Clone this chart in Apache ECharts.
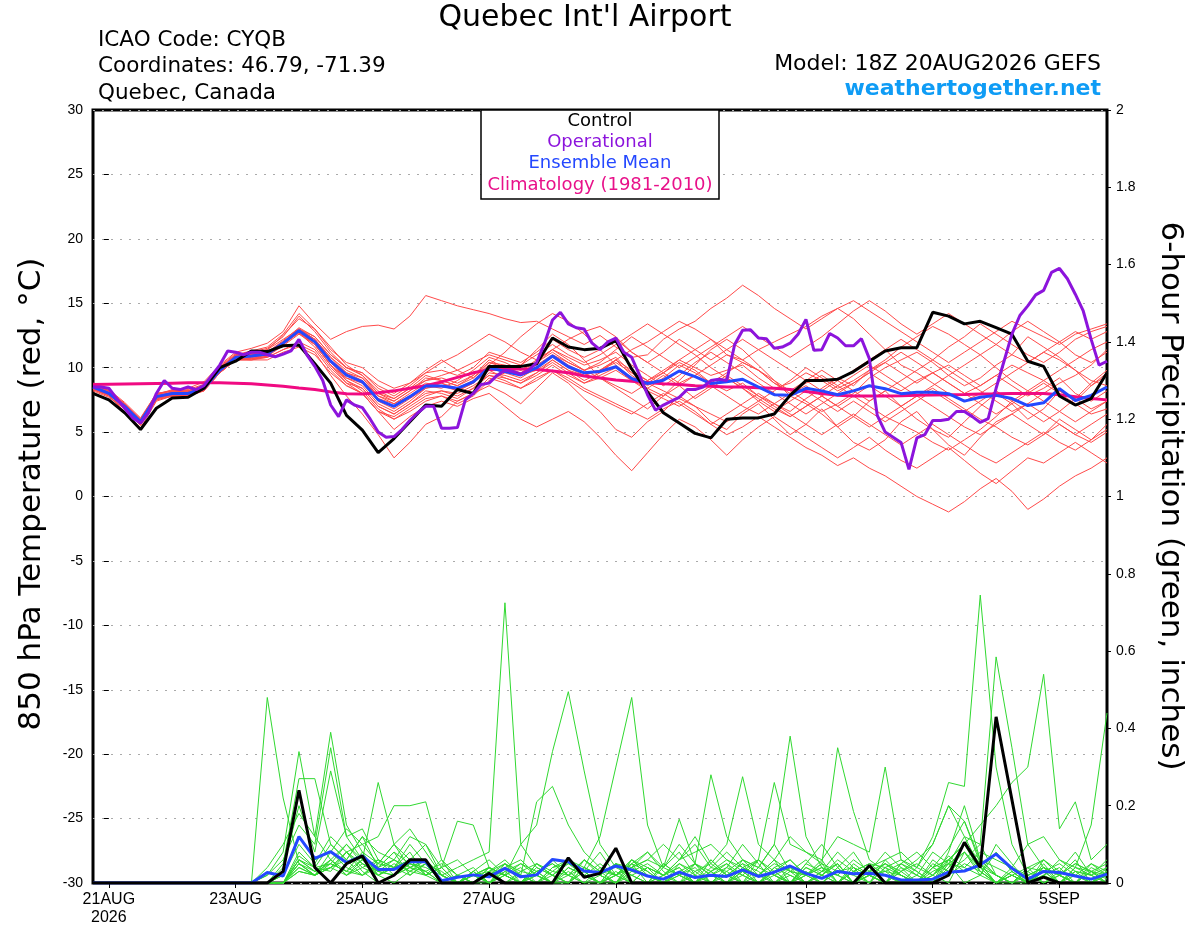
<!DOCTYPE html>
<html>
<head>
<meta charset="utf-8">
<title>Quebec Int'l Airport - GEFS 850 hPa temperature and precipitation</title>
<script src="https://cdn.jsdelivr.net/npm/echarts@6/dist/echarts.min.js"></script>
<style>
  html, body { margin: 0; padding: 0; background: #fff; }
  #main { width: 1200px; height: 927px; }
</style>
</head>
<body>
<div id="main"></div>
<script>
// time axis: hours after 21AUG 00Z, first point is 20AUG 18Z
var startHour = -6;
var tickHours = [0, 48, 96, 144, 192, 264, 312, 360];
var tickLabels = ['21AUG\n2026', '23AUG', '25AUG', '27AUG', '29AUG', '1SEP', '3SEP', '5SEP'];

// 850 hPa temperature, 6-hourly (deg C)
var controlTemp = [8.0,7.5,6.5,5.2,6.85,7.65,7.7,8.4,10.0,10.5,11.3,11.25,11.7,11.75,10.3,8.8,6.3,5.15,3.4,4.5,5.8,7.1,7.0,8.3,8.0,
  10.1,10.1,10.1,10.3,12.3,11.6,11.4,11.5,12.1,9.9,8.1,6.5,5.7,4.9,4.55,6.0,6.1,6.1,6.4,7.85,
  9.0,9.0,9.1,9.7,10.5,11.3,11.55,11.55,14.3,14.0,13.4,13.6,13.1,12.6,10.5,10.1,7.8,7.1,7.6,9.6];
var meanTemp = [8.5,8.0,7.0,5.8,7.75,8.0,8.0,8.4,9.8,10.8,10.9,11.06,11.9,12.87,12.0,10.5,9.43,8.9,7.5,7.0,7.75,8.58,8.58,8.4,8.9,
  10.0,9.7,9.43,10.0,10.9,10.07,9.6,9.7,10.07,9.16,8.77,9.03,9.74,9.3,8.77,8.9,9.1,8.5,7.9,7.85,
  8.4,8.2,7.9,8.2,8.6,8.37,7.98,8.1,8.1,7.98,7.4,7.7,7.85,7.6,7.06,7.27,8.37,7.45,7.85,8.5];
var climoTemp = [8.7,8.72,8.74,8.76,8.78,8.8,8.82,8.83,8.83,8.8,8.75,8.65,8.55,8.42,8.3,8.12,7.97,7.95,8.05,8.2,8.4,8.6,8.9,9.25,9.6,
  9.85,9.9,9.9,9.85,9.75,9.6,9.35,9.2,9.05,8.95,8.85,8.75,8.7,8.6,8.55,8.5,8.5,8.45,8.4,8.3,
  8.15,8.0,7.85,7.8,7.8,7.8,7.82,7.85,7.88,7.9,7.92,7.95,7.97,8.0,8.0,8.0,7.9,7.75,7.6,7.5];
// operational run, 3-hourly
var operTemp = [8.5,8.5,8.4,7.6,6.85,6.1,5.7,6.5,8.0,9.0,8.4,8.3,8.5,8.3,8.6,9.4,10.2,11.3,11.2,11.0,
  11.2,11.2,11.0,10.85,11.05,11.3,12.2,11.0,10.1,9.0,7.1,6.2,7.5,7.1,6.9,6.0,5.0,4.6,4.65,5.2,
  5.9,6.5,7.0,7.0,5.3,5.3,5.35,7.5,8.0,8.7,8.8,9.4,9.8,9.7,9.5,9.8,10.4,11.9,13.7,14.3,
  13.4,13.1,13.0,11.9,11.4,12.0,12.3,11.2,10.8,9.4,7.9,6.7,7.1,7.4,7.7,8.3,8.3,8.5,9.0,9.1,
  9.0,11.8,12.9,12.95,12.3,12.25,11.5,11.6,11.9,12.6,13.75,11.35,11.4,12.65,12.3,11.7,11.7,12.25,10.7,6.3,
  5.0,4.6,4.2,2.1,4.55,4.8,5.9,5.9,6.0,6.6,6.6,6.2,5.75,6.05,8.4,10.5,12.6,14.05,14.8,15.65,
  16.0,17.4,17.7,16.9,15.7,14.4,12.2,10.2,10.5];

// ensemble members, 6-hourly temperature
var t01 = [8.7,8.2,7.2,6.0,7.9,8.3,8.4,8.9,10.2,11.2,11.5,11.9,12.8,14.8,13.4,12.2,12.8,13.2,13.3,13.0,14.0,15.6,15.2,14.8,14.5,
  14.2,13.8,13.5,13.6,13.0,12.4,11.8,12.5,11.6,10.8,11.0,12.2,13.0,13.6,14.6,15.4,16.4,15.6,14.6,13.8,
  13.0,13.8,14.6,15.2,14.4,13.6,12.8,12.0,11.2,10.4,11.2,12.0,12.8,13.6,13.0,12.4,11.8,12.6,13.0,13.4];
var t02 = [8.3,7.8,6.6,5.3,7.4,7.8,7.8,8.2,9.6,10.6,10.7,10.8,11.4,11.8,11.2,9.4,7.8,6.4,4.8,3.0,4.2,5.6,6.2,7.4,8.0,
  8.6,8.0,7.2,8.4,9.6,8.8,7.6,6.6,5.2,4.6,5.8,6.6,7.8,7.0,5.8,5.2,6.4,7.2,6.0,4.8,
  5.6,6.8,5.4,4.2,3.6,4.4,5.8,6.6,5.2,4.0,3.2,4.6,5.8,6.4,5.6,4.8,6.0,5.2,4.4,5.6];
var t03 = [8.6,8.1,7.1,5.9,7.8,8.1,8.2,8.6,10.0,11.0,11.3,11.6,12.6,14.2,13.0,11.4,10.4,10.0,9.0,8.4,8.8,9.6,10.4,11.0,11.8,
  12.6,12.0,11.2,10.6,11.4,12.2,12.8,13.2,12.4,11.2,10.4,9.6,8.8,9.4,10.2,11.0,10.4,9.8,8.8,8.2,
  7.4,6.6,7.2,8.0,9.2,10.0,10.6,11.2,10.4,9.4,8.6,9.2,10.2,11.0,12.4,11.6,10.8,9.8,8.6,9.4];
var t04 = [8.4,7.9,6.9,5.6,7.6,7.9,7.8,8.3,9.7,10.7,10.7,11.0,11.8,12.8,12.2,10.6,9.0,8.2,6.8,6.0,6.6,7.4,7.8,7.2,7.8,
  9.0,9.6,10.2,11.4,12.6,11.8,10.6,9.2,8.4,7.6,6.8,7.8,9.0,10.2,11.4,12.2,11.4,10.2,9.0,7.8,
  7.2,6.4,5.4,6.2,7.4,8.2,7.0,6.0,5.2,4.6,5.8,7.0,8.0,7.2,6.0,6.8,8.2,7.6,6.8,7.4];
var t05 = [8.8,8.3,7.3,6.1,8.0,8.2,8.3,8.7,10.1,11.1,11.0,11.4,12.5,13.8,13.0,11.6,10.2,9.4,8.2,7.6,8.4,9.4,9.0,8.6,9.4,
  10.6,10.0,9.4,9.8,10.6,9.8,9.0,9.6,10.6,11.4,12.0,12.8,13.6,13.0,12.2,11.0,10.6,11.4,12.0,12.6,
  13.2,14.0,14.6,13.8,12.6,11.4,10.2,9.6,8.8,8.0,7.4,8.0,8.8,9.6,10.4,11.2,10.6,9.8,9.0,8.6];
var t06 = [8.5,8.0,7.0,5.7,7.7,8.0,8.1,8.5,9.9,10.9,11.1,11.2,12.0,13.0,12.4,11.0,10.0,9.6,8.6,8.0,8.8,9.8,10.6,9.8,9.2,
  10.2,11.2,12.4,13.4,14.2,13.6,12.6,11.4,10.2,9.2,8.4,7.8,8.6,9.4,8.6,7.8,7.0,6.4,7.2,8.0,
  8.8,9.4,8.6,7.8,7.0,6.2,5.6,5.0,4.2,3.6,4.4,5.2,6.2,7.4,8.2,9.0,8.2,7.4,8.6,9.6];
var t07 = [8.2,7.7,6.8,5.5,7.5,7.8,7.9,8.2,9.6,10.6,10.6,10.9,11.7,12.6,11.8,10.2,9.2,8.8,7.6,7.2,7.8,8.6,8.4,9.0,9.8,
  10.8,10.4,9.8,10.4,11.4,10.6,9.8,10.2,10.8,9.6,8.8,8.2,7.6,7.0,6.4,5.8,6.6,7.4,8.2,9.0,
  10.0,9.2,8.4,9.0,9.8,10.6,11.6,12.4,13.2,12.6,11.8,11.0,10.0,9.0,8.2,7.4,6.6,7.6,8.8,9.8];
var t08 = [8.6,8.0,7.1,5.9,7.8,8.0,8.1,8.4,9.8,10.8,11.0,11.0,11.9,12.7,11.6,10.0,8.8,8.0,6.6,6.2,7.0,7.8,8.2,8.0,8.6,
  9.4,9.0,8.4,9.2,9.8,9.2,8.4,7.8,7.2,6.6,6.0,6.8,7.4,6.6,5.6,4.8,5.4,6.2,5.4,4.6,
  3.8,3.2,2.4,3.0,2.2,1.6,0.8,0.0,-0.6,-1.2,-0.4,0.6,1.4,0.4,-1.0,-0.2,0.8,1.6,2.2,3.0];
var t09 = [8.7,8.2,7.2,6.0,7.9,8.2,8.2,8.6,10.0,11.0,11.1,11.4,12.2,13.0,12.2,10.8,9.6,9.0,7.8,7.4,8.2,9.0,9.4,9.8,10.4,
  11.0,10.6,10.2,11.0,11.8,11.0,10.4,11.0,11.8,12.6,13.4,12.6,11.8,11.0,10.0,9.2,8.4,7.6,6.8,6.2,
  7.0,7.8,8.6,9.4,10.2,9.4,8.6,7.8,8.6,9.4,10.2,11.0,11.8,12.8,13.6,12.8,12.0,11.0,10.4,11.2];
var t10 = [8.3,7.9,6.9,5.6,7.6,7.9,7.9,8.3,9.7,10.7,10.8,11.0,11.8,12.9,12.0,10.4,9.4,8.8,7.4,6.8,7.6,8.4,8.8,8.2,8.8,
  9.8,9.2,8.8,9.6,10.4,9.6,8.8,9.4,10.0,9.0,8.4,9.2,10.2,9.6,8.8,9.6,10.4,9.8,8.8,8.0,
  8.6,7.8,7.0,7.8,8.6,7.8,7.0,7.8,8.4,7.6,6.8,6.0,5.4,4.6,4.0,4.8,5.6,4.8,4.2,5.0];
var t11 = [8.6,8.1,7.0,5.8,7.7,8.1,8.0,8.4,9.8,10.9,10.9,11.1,11.9,13.0,12.2,10.6,9.6,9.2,7.8,7.2,8.0,8.8,8.6,8.2,8.8,
  10.0,9.8,9.4,10.0,11.0,10.2,9.6,9.8,10.6,9.8,9.0,9.6,10.4,9.8,8.8,8.2,8.8,7.8,7.2,6.6,
  7.6,8.4,9.2,8.6,9.8,10.4,9.6,8.8,9.6,10.2,9.4,8.6,9.4,8.6,7.8,8.4,9.2,8.0,7.4,8.2];
var t12 = [8.4,7.9,6.9,5.7,7.6,7.9,7.9,8.3,9.7,10.7,10.6,10.6,11.2,11.6,11.0,9.6,8.6,8.0,6.6,5.2,6.2,7.0,7.4,7.0,7.6,
  8.0,7.0,6.0,5.4,6.0,6.6,5.8,4.6,3.2,2.0,3.4,4.8,6.0,5.4,4.4,3.2,4.4,5.4,6.2,5.4,
  4.6,3.8,3.0,3.8,4.6,3.6,2.8,2.2,3.0,3.8,2.8,1.8,1.0,2.0,3.0,2.6,3.4,4.2,3.4,2.6];
var t13 = [8.5,8.0,7.0,5.8,7.7,8.0,8.0,8.4,9.8,10.8,10.9,11.1,11.9,12.9,12.0,10.4,9.2,8.6,7.2,6.6,7.4,8.4,8.6,8.4,9.0,
  10.2,9.8,9.6,10.2,11.0,10.4,9.8,10.4,11.4,12.4,11.6,10.8,10.0,10.8,11.6,12.4,13.2,12.4,11.6,10.8,
  11.6,12.4,13.4,14.4,15.2,14.4,13.4,12.6,13.4,14.2,13.4,12.6,11.8,11.0,10.4,11.2,12.0,12.8,12.2,12.8];
var t14 = [8.7,8.2,7.1,5.9,7.9,8.2,8.1,8.5,9.9,10.9,11.0,11.2,12.1,13.1,12.4,11.0,10.0,9.4,8.0,7.6,8.4,9.0,9.2,8.8,9.4,
  10.4,10.0,9.6,10.4,11.2,10.4,9.8,9.2,8.6,8.0,8.8,9.6,10.6,11.4,12.2,11.4,10.6,9.8,9.0,8.2,
  9.0,9.8,9.0,8.2,7.4,8.2,9.0,9.8,10.6,9.8,9.0,8.2,7.4,6.6,7.2,8.0,8.8,9.4,10.2,11.4];
var t15 = [8.4,7.9,6.9,5.7,7.6,7.9,7.8,8.3,9.6,10.6,10.7,10.9,11.8,12.8,11.8,10.2,8.8,8.4,7.0,6.4,7.2,8.2,8.0,7.6,8.4,
  9.6,9.4,9.0,9.6,10.6,9.8,9.4,9.8,10.6,9.4,8.6,9.4,8.6,7.6,8.4,9.2,8.4,7.4,6.6,7.4,
  8.2,7.4,6.6,7.4,6.6,5.8,6.6,7.4,8.2,7.4,6.6,7.4,8.2,7.4,6.6,5.8,6.6,5.8,6.6,7.4];
var t16 = [8.6,8.1,7.1,5.9,7.8,8.1,8.1,8.5,9.9,10.9,11.0,11.2,12.0,13.0,12.2,10.8,9.8,9.2,8.0,7.4,8.2,9.2,9.0,8.6,9.2,
  10.4,10.2,9.8,10.6,11.4,10.8,10.2,10.6,11.2,10.2,9.4,8.6,9.4,10.4,11.2,10.4,9.6,8.8,8.0,7.2,
  6.4,7.2,8.0,8.8,9.6,10.4,11.2,10.4,9.6,8.8,8.0,7.2,6.4,7.2,8.0,8.8,8.0,7.2,6.4,6.8];
var t17 = [8.5,8.0,7.0,5.8,7.7,8.0,8.0,8.4,9.8,10.8,10.9,11.0,11.8,12.8,12.0,10.6,9.4,9.0,7.6,7.0,7.8,8.6,8.8,8.4,9.0,
  10.0,9.6,9.2,10.0,10.8,10.0,9.4,9.8,10.4,9.6,9.0,9.8,10.6,10.0,9.4,9.8,10.2,9.2,8.4,8.8,
  9.6,9.0,8.2,8.8,9.6,8.8,8.2,9.0,9.6,8.8,8.0,8.6,9.4,10.2,9.6,9.0,9.8,10.6,11.4,12.0];
var t18 = [8.3,7.8,6.8,5.6,7.5,7.8,7.8,8.2,9.6,10.6,10.6,10.8,11.4,12.0,11.4,9.8,8.6,8.0,6.6,6.0,6.8,7.6,7.8,7.4,8.0,
  9.2,8.8,8.4,9.0,9.8,9.0,8.2,7.6,7.0,6.4,7.2,8.0,7.2,6.4,5.6,6.4,7.2,8.0,7.2,6.4,
  5.6,4.8,5.6,6.4,5.6,4.8,4.0,4.8,5.6,4.8,4.0,3.2,2.6,3.4,4.2,5.0,4.2,3.6,4.4,5.2];
var t19 = [8.8,8.2,7.2,6.0,8.0,8.2,8.2,8.6,10.0,11.0,11.2,11.5,12.4,14.0,12.8,11.2,10.0,9.6,8.4,7.8,8.6,9.6,9.8,9.4,10.0,
  11.2,10.8,10.4,11.2,12.2,11.4,10.8,11.4,12.2,11.2,10.4,11.2,12.2,11.4,10.6,11.4,12.2,11.4,10.6,9.8,
  9.0,8.2,9.0,9.8,10.6,11.4,12.2,11.4,10.6,11.6,12.4,13.4,12.6,11.8,11.0,10.4,11.2,12.2,12.8,13.2];
var t20 = [8.4,7.9,6.9,5.6,7.6,7.9,7.9,8.3,9.7,10.7,10.8,11.0,11.8,12.7,11.8,10.2,9.0,8.4,7.0,6.4,7.2,8.0,8.2,7.8,8.4,
  9.4,9.2,8.8,9.4,10.2,9.4,8.8,9.2,9.8,9.0,8.2,7.6,7.0,7.8,8.6,9.4,8.6,7.8,7.0,6.2,
  7.0,7.8,7.0,6.2,5.4,6.2,7.0,7.8,7.0,6.2,5.4,4.8,5.6,6.4,7.2,6.4,5.6,4.8,5.6,6.4];

// 6-hour precipitation (inches)
var controlPrecip = [0,0,0,0,0,0,0,0,0,0,0,0,0.03,0.24,0.04,0,0.05,0.07,0,0.02,0.06,0.06,0,0,0,
  0.025,0,0,0,0,0.065,0.015,0.025,0.09,0,0,0,0,0,0,0,0,0,0,0,
  0,0,0,0,0.045,0,0,0,0,0.02,0.105,0.04,0.43,0.215,0,0.015,0,0,0,0];
var meanPrecip = [0,0,0,0,0,0,0,0,0,0,0,0.027,0.018,0.12,0.064,0.081,0.053,0.07,0.035,0.035,0.055,0.055,0.006,0.015,0.021,
  0.016,0.038,0.016,0.021,0.061,0.055,0.031,0.027,0.044,0.034,0.018,0.01,0.028,0.014,0.02,0.017,0.034,0.017,0.028,0.044,
  0.025,0.012,0.03,0.024,0.025,0.02,0.008,0.008,0.01,0.028,0.031,0.047,0.075,0.038,0.01,0.03,0.027,0.018,0.01,0.023];
var p01 = [0,0,0,0,0,0,0,0,0,0, 0,.48,.22,.05,.02, .04,.08,.03,0,.02, .05,.03,0,0,.02, 0,.04,.06,.02,0, 0,.03,.08,.02,0,
  0,.02,.05,.03,0, .04,.1,.05,0,.02, 0,.03,.08,.04,0, .06,.02,0,.03,.05, 0,.02,.08,.03,0, .04,.02,0,.05,.03];
var p02 = [0,0,0,0,0,0,0,0,0,0, 0,.02,.08,.34,.12, .06,.1,.05,.02,0, .03,.06,.02,0,0, .04,.02,0,.03,.05, .02,0,0,.02,.04,
  .08,.03,0,.02,.06, .02,0,.04,.1,.03, 0,.02,.05,0,.03, .08,.04,0,.02,.06, .1,.03,0,0,.04, .06,.02,0,.03,.01];
var p03 = [0,0,0,0,0,0,0,0,0,0, 0,0,.05,.27,.27, .1,.06,.12,.04,.08, .02,.05,0,0,.03, 0,.02,.04,0,.02, .06,.03,0,.05,.02,
  0,.04,.08,.02,0, 0,.03,.06,.02,0, .05,.1,.04,0,.02, .03,0,0,.02,.07, .04,.02,.1,.05,0, .02,.04,0,0,.03];
var p04 = [0,0,0,0,0,0,0,0,0,0, 0,.04,.1,.18,.12, .39,.15,.08,.05,.1, .04,.02,0,.02,0, 0,.03,0,.05,.02, 0,.04,.02,0,.06,
  .02,0,0,.03,.05, .02,0,.06,.02,0, .03,0,.04,.08,.02, 0,.05,.02,0,.04, .1,.06,.02,0,0, .05,0,.03,.02,.06];
var p05 = [0,0,0,0,0,0,0,0,0,0, 0,.02,.06,.15,.1, .35,.12,.14,.06,.04, .1,.05,0,0,.02, .03,.06,.02,0,.04, .05,.02,0,.03,0,
  0,.05,.02,0,.03, .06,.03,0,.02,.04, 0,.02,.06,.03,0, .04,0,.02,.08,.05, .12,.04,0,.03,0, .02,.06,.03,0,.02];
var p06 = [0,0,0,0,0,0,0,0,0,0, 0,0,.04,.2,.08, .29,.12,.06,.26,.1, .14,.08,.02,0,0, .02,.05,0,.02,0, .04,.02,0,0,.05,
  .03,0,.02,.04,0, .02,.05,0,0,.03, .06,.02,0,.05,.02, 0,.03,0,.04,.09, .16,.05,.02,0,.03, 0,.02,.05,.03,0];
var p07 = [0,0,0,0,0,0,0,0,0,0, 0,0,.02,.12,.06, .08,.14,.1,.12,.2, .2,.21,.06,.02,0, .04,.02,0,.03,0, 0,.06,.03,0,.02,
  .04,0,.03,0,.02, .05,0,0,.04,.02, 0,.03,.05,0,.02, 0,.04,.02,0,.06, .03,.05,0,.02,0, .03,0,.04,.02,0];
var p08 = [0,0,0,0,0,0,0,0,0,0, 0,0,0,.08,.04, .1,.06,.12,.08,.06, .12,.1,.04,.16,.15, .04,.02,0,.02,0, .03,0,.02,0,.04,
  .02,0,.03,.05,0, 0,.02,0,.03,.06, .02,0,.04,0,.02, .05,.02,0,0,.04, .08,.03,0,.02,.04, 0,.02,.06,0,.03];
var p09 = [0,0,0,0,0,0,0,0,0,0, 0,0,.02,.1,.05, .12,.08,.1,.05,.1, .06,.1,.02,.04,.06, .08,.725,.1,.04,.02, 0,.03,0,.02,.05,
  0,.02,.04,0,.03, 0,.06,.02,0,0, .04,.02,0,.03,.05, .02,0,0,.04,.06, .1,.05,0,.03,0, .02,0,.04,.03,0];
var p10 = [0,0,0,0,0,0,0,0,0,0, 0,0,0,.06,.03, .05,.1,.06,.04,.08, .05,.04,.02,0,.03, .06,.02,.1,.15,.34, .495,.29,.1,.04,.02,
  0,.05,.02,0,.04, .03,0,.02,.06,0, .02,.04,0,.03,.02, 0,.05,.03,0,.08, .2,.06,.02,0,.04, .03,0,.02,.05,.02];
var p11 = [0,0,0,0,0,0,0,0,0,0, 0,0,0,.05,.02, .08,.04,.02,.06,.04, .08,.02,.04,.06,.02, .04,0,.02,.21,.25, .15,.08,.04,.02,0,
  .04,.02,0,.05,.02, 0,.03,0,.04,.06, .02,0,.03,.02,0, .04,.02,0,.05,.03, .06,.1,.02,0,.02, .04,.02,0,.03,.05];
var p12 = [0,0,0,0,0,0,0,0,0,0, 0,0,0,.04,.02, .06,.02,.05,.03,.02, .05,.03,0,.02,.04, 0,.05,.03,.02,.06, .02,.04,.12,.3,.48,
  .15,.04,.02,0,.03, .05,.02,0,.03,0, .04,.02,.05,0,.02, 0,.03,.05,.02,0, .08,.02,0,.04,.02, 0,.03,.02,0,.04];
var p13 = [0,0,0,0,0,0,0,0,0,0, 0,0,0,.07,.04, .05,.03,.08,.02,.04, .06,.02,.04,0,.02, .04,.02,0,.03,.05, .02,.06,.03,.02,.05,
  .08,.04,.1,.05,.28, .12,.06,.04,.1,.38, .12,.04,.02,0,.03, .05,.02,0,.06,.03, .1,.04,0,.02,0, .03,.05,.02,0,.02];
var p14 = [0,0,0,0,0,0,0,0,0,0, 0,0,0,.03,.02, .04,.06,.02,.04,.06, .03,.05,0,.02,0, .03,.05,.02,0,.04, .06,.02,0,.05,.04,
  .06,.1,.06,.12,.05, .1,.275,.1,.06,.12, .08,.05,.35,.185,.06, .03,.02,0,.04,.02, .05,.03,0,.02,0, .04,.02,.05,.03,0];
var p15 = [0,0,0,0,0,0,0,0,0,0, 0,0,0,.05,.03, .06,.02,.04,.06,.02, .04,.06,.02,0,.03, 0,.02,.05,.03,0, .04,.02,.05,.02,.06,
  .04,.02,.06,.1,.04, .08,.04,.06,.26,.1, .08,.06,.12,.1,.08, .3,.06,.03,0,.05, .08,.04,.02,0,.03, .06,.02,0,.04,.02];
var p16 = [0,0,0,0,0,0,0,0,0,0, 0,0,0,.06,.04, .03,.08,.04,.02,.05, .03,.02,.06,0,.02, .04,.02,0,.05,.03, .02,.06,.02,0,.03,
  .05,.02,.04,0,.06, .02,.05,.03,0,.04, .02,.06,0,.03,.05, .04,.06,.04,.12,.26, .25,.745,.3,.1,.02, .04,0,.03,.02,0];
var p17 = [0,0,0,0,0,0,0,0,0,0, 0,0,0,.05,.02, .04,.02,.06,.03,.02, .04,.06,.02,0,0, .02,0,.03,.05,.02, 0,.04,.02,.05,.03,
  .02,0,.05,.02,0, .03,.06,.04,.02,0, .05,.03,.02,0,.04, .06,.08,.04,.1,.2, .12,.1,.585,.35,.1, .04,.02,0,.03,.02];
var p18 = [0,0,0,0,0,0,0,0,0,0, 0,0,0,.04,.02, .06,.03,.02,.05,.04, .02,.05,.03,0,.02, 0,.03,.05,.02,0, .02,0,.04,.02,.06,
  .03,0,.02,.05,.03, 0,.04,.02,.06,.03, .02,.05,0,.04,.02, .03,.05,.08,.04,.06, .1,.15,.2,.26,.3, .54,.14,.21,.06,.1];
var p19 = [0,0,0,0,0,0,0,0,0,0, 0,0,0,.03,.02, .05,.03,.06,.02,.04, .06,.02,.04,0,0, .03,.02,0,.04,.02, .05,.03,0,.02,.04,
  .06,.04,.165,.05,.02, .04,.02,.06,.03,0, .02,.04,.02,.06,.03, .02,0,.04,.02,.05, .04,.08,.06,.04,.1, .12,.06,.04,.15,.44];
var p20 = [0,0,0,0,0,0,0,0,0,0, 0,0,0,.06,.03, .04,.08,.05,.03,.06, .04,.03,.05,.02,0, .02,.04,.02,0,.03, .06,.04,.02,.05,0,
  .04,.02,.06,.08,.1, .06,.04,.02,.05,.03, .02,.05,.03,.04,.02, .05,.03,.06,.1,.2, .16,.06,.04,.02,0, .06,.03,.08,.02,.04];

var tempMembers = [t01,t02,t03,t04,t05,t06,t07,t08,t09,t10,t11,t12,t13,t14,t15,t16,t17,t18,t19,t20];
var precipMembers = [p01,p02,p03,p04,p05,p06,p07,p08,p09,p10,p11,p12,p13,p14,p15,p16,p17,p18,p19,p20];

var FONT = '"Liberation Sans", Arial, Helvetica, sans-serif';
var WIDE = '"DejaVu Sans", Verdana, sans-serif';

function pts(vals, step) {
  var out = [];
  for (var i = 0; i < vals.length; i++) {
    out.push([startHour + step * i, vals[i]]);
  }
  return out;
}

function line(vals, step, axis, color, width, z) {
  return {
    type: 'line',
    data: pts(vals, step),
    yAxisIndex: axis,
    symbol: 'none',
    silent: true,
    z: z,
    lineStyle: { color: color, width: width }
  };
}

var series = [];
tempMembers.forEach(function (m) {
  series.push(line(m, 6, 0, '#ff4a4a', 1, 1));
});
precipMembers.forEach(function (m) {
  series.push(line(m, 6, 1, '#30d830', 1, 1));
});
series.push(line(climoTemp, 6, 0, '#f00a82', 3, 3));
series.push(line(meanTemp, 6, 0, '#2448ff', 3, 4));
series.push(line(meanPrecip, 6, 1, '#2448ff', 3, 4));
series.push(line(controlTemp, 6, 0, '#000000', 3, 5));
series.push(line(controlPrecip, 6, 1, '#000000', 3, 5));
series.push(line(operTemp, 3, 0, '#8c14dc', 3, 6));

var myChart = echarts.init(document.getElementById('main'));

var option = {
  animation: false,
  backgroundColor: '#ffffff',
  textStyle: { fontFamily: FONT },
  grid: {
    left: 93, right: 93, top: 110, bottom: 44,
    show: true, borderColor: '#000', borderWidth: 3, backgroundColor: 'transparent'
  },
  xAxis: {
    type: 'value',
    min: startHour,
    max: 378,
    axisLine: { show: false, onZero: false },
    axisTick: { show: true, customValues: tickHours, length: 5, lineStyle: { color: '#000', width: 1 } },
    axisLabel: {
      customValues: tickHours,
      color: '#000', fontSize: 16, lineHeight: 18, margin: 8, fontFamily: FONT,
      formatter: function (v) {
        var k = tickHours.indexOf(v);
        return k >= 0 ? tickLabels[k] : '';
      }
    },
    splitLine: { show: false }
  },
  yAxis: [
    {
      type: 'value', min: -30, max: 30, interval: 5, position: 'left',
      axisLine: { show: false },
      axisTick: { show: true, length: 5, lineStyle: { color: '#000', width: 1 } },
      axisLabel: { color: '#000', fontSize: 14, margin: 10, fontFamily: FONT },
      splitLine: { show: true, lineStyle: { color: '#aaaaaa', width: 1.2, type: [2, 7] } }
    },
    {
      type: 'value', min: 0, max: 2, interval: 0.2, position: 'right',
      axisLine: { show: false },
      axisTick: { show: true, length: 4, lineStyle: { color: '#000', width: 1 } },
      axisLabel: { color: '#000', fontSize: 14, margin: 9, fontFamily: FONT },
      splitLine: { show: false }
    }
  ],
  graphic: [
    { type: 'text', x: 585, y: 18, style: { text: "Quebec Int'l Airport", font: '30px ' + WIDE, fill: '#000', textAlign: 'center', textVerticalAlign: 'middle' } },
    { type: 'text', x: 98, y: 40, style: { text: 'ICAO Code: CYQB', font: '21.5px ' + WIDE, fill: '#000', textAlign: 'left', textVerticalAlign: 'middle' } },
    { type: 'text', x: 98, y: 66, style: { text: 'Coordinates: 46.79, -71.39', font: '21.5px ' + WIDE, fill: '#000', textAlign: 'left', textVerticalAlign: 'middle' } },
    { type: 'text', x: 98, y: 93, style: { text: 'Quebec, Canada', font: '21.5px ' + WIDE, fill: '#000', textAlign: 'left', textVerticalAlign: 'middle' } },
    { type: 'text', x: 1101, y: 64, style: { text: 'Model: 18Z 20AUG2026 GEFS', font: '22px ' + WIDE, fill: '#000', textAlign: 'right', textVerticalAlign: 'middle' } },
    { type: 'text', x: 1101, y: 89, style: { text: 'weathertogether.net', font: 'bold 22px ' + WIDE, fill: '#0f9cf5', textAlign: 'right', textVerticalAlign: 'middle' } },
    // legend box
    { type: 'rect', z: 100, shape: { x: 481, y: 110, width: 238, height: 89 }, style: { fill: '#fff', stroke: '#000', lineWidth: 1.5 } },
    { type: 'text', z: 101, x: 600, y: 121, style: { text: 'Control', font: '18px ' + WIDE, fill: '#000', textAlign: 'center', textVerticalAlign: 'middle' } },
    { type: 'text', z: 101, x: 600, y: 142, style: { text: 'Operational', font: '18px ' + WIDE, fill: '#8c14dc', textAlign: 'center', textVerticalAlign: 'middle' } },
    { type: 'text', z: 101, x: 600, y: 163, style: { text: 'Ensemble Mean', font: '18px ' + WIDE, fill: '#2448ff', textAlign: 'center', textVerticalAlign: 'middle' } },
    { type: 'text', z: 101, x: 600, y: 185, style: { text: 'Climatology (1981-2010)', font: '18px ' + WIDE, fill: '#e8118a', textAlign: 'center', textVerticalAlign: 'middle' } },
    // axis titles
    { type: 'text', x: 32, y: 494, rotation: Math.PI / 2, style: { text: '850 hPa Temperature (red, \u00b0C)', font: '31px ' + WIDE, fill: '#000', textAlign: 'center', textVerticalAlign: 'middle' } },
    { type: 'text', x: 1170, y: 496, rotation: -Math.PI / 2, style: { text: '6-hour Precipitation (green, inches)', font: '31px ' + WIDE, fill: '#000', textAlign: 'center', textVerticalAlign: 'middle' } }
  ],
  series: series
};

myChart.setOption(option);
</script>
</body>
</html>
